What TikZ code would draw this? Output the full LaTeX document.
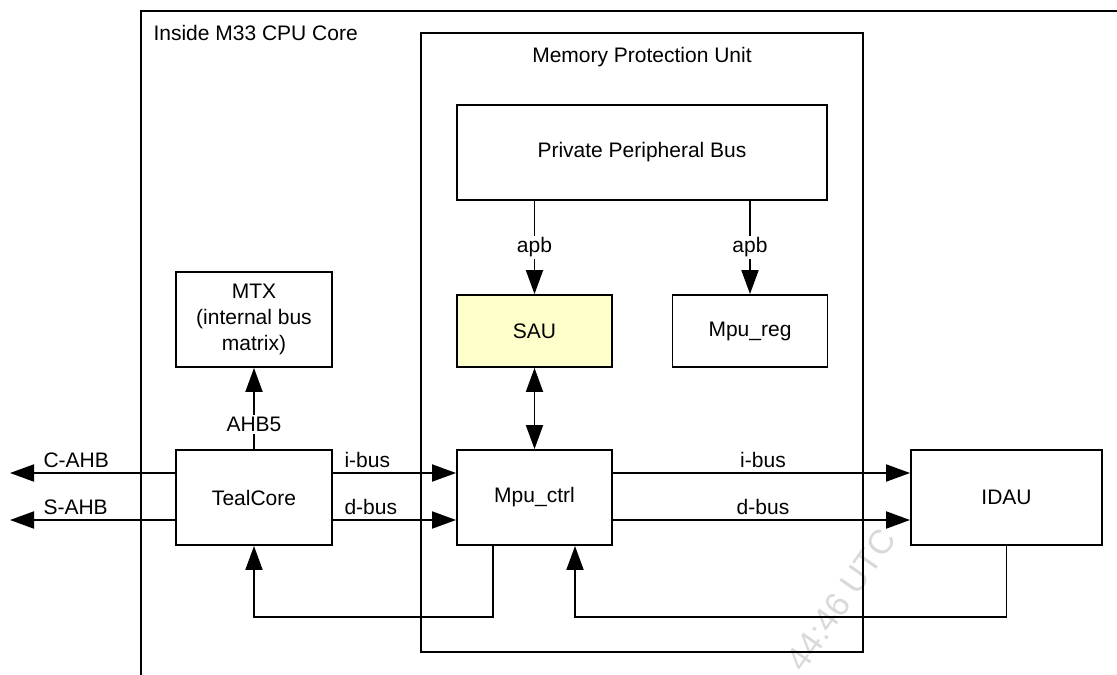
\documentclass[tikz,border=0pt]{standalone}
\usepackage{fontspec}
\setmainfont{Liberation Sans}
\usetikzlibrary{arrows.meta,calc}
\definecolor{sauyellow}{HTML}{FFFFCC}
\definecolor{wmgray}{HTML}{D9D9D9}
\begin{document}
\begin{tikzpicture}[x=1pt,y=-1pt,
  txt/.style={font=\fontsize{21}{26}\selectfont},
  box/.style={draw,line width=1.9pt,inner sep=0pt,txt,align=center},
  arr/.style={line width=1.9pt,-{Triangle[length=24pt,width=17pt]}},
  biarr/.style={line width=1.9pt,{Triangle[length=24pt,width=17pt]}-{Triangle[length=24pt,width=17pt]}},
  lbl/.style={txt,fill=white,inner sep=2pt},
  plain/.style={line width=1.9pt}
]
\useasboundingbox (0,0) rectangle (1117,675);

% watermark
\node[font=\fontsize{34}{38}\selectfont,text=wmgray,rotate=55,anchor=base east] (wm) at (900,536) {44:46 UTC};

% outer CPU core frame
\coordinate (otr) at (1117,11);
\coordinate (obl) at (141,675);
\draw[plain] (otr) -- (obl |- otr) -- (obl);
\node[txt,anchor=west] (cpulbl) at (150,33) {Inside M33 CPU Core};

% MPU container
\node[box,minimum width=442pt,minimum height=619pt] (mpu) at (642,342.5) {};
\node[txt] (mpulbl) at (642,57) {Memory Protection Unit};

% blocks
\node[box,minimum width=370pt,minimum height=95pt] (ppb) at (642,152.5) {Private Peripheral Bus};
\node[box,fill=sauyellow,minimum width=155pt,minimum height=72pt] (sau) at (534.5,331) {SAU};
\node[box,minimum width=155pt,minimum height=72pt] (mpureg) at (750,331) {Mpu\_reg};
\node[box,minimum width=156pt,minimum height=95pt] (mtx) at (254,319.5) {MTX\\(internal bus\\matrix)};
\node[box,minimum width=156pt,minimum height=95pt] (teal) at (254,497.5) {TealCore};
\node[box,minimum width=155pt,minimum height=95pt] (mpuctrl) at (534.5,497.5) {Mpu\_ctrl};
\node[box,minimum width=191pt,minimum height=95pt] (idau) at (1006.5,497.5) {IDAU};

% apb arrows
\draw[arr] (sau.north |- ppb.south) -- node[lbl] {apb} (sau.north);
\draw[arr] (mpureg.north |- ppb.south) -- node[lbl] {apb} (mpureg.north);

% SAU <-> Mpu_ctrl
\draw[biarr] (sau.south) -- (mpuctrl.north);

% AHB5
\draw[arr] (teal.north) -- node[lbl,pos=0.3] {AHB5} (mtx.south);

% external buses
\coordinate (cahb) at (10,473);
\coordinate (sahb) at (10,520);
\draw[arr] ([yshift=24.5pt]teal.west) -- (cahb);
\draw[arr] ([yshift=-22.5pt]teal.west) -- (sahb);
\node[txt,anchor=west] (cahblbl) at (40,460) {C-AHB};
\node[txt,anchor=west] (sahblbl) at (40,507) {S-AHB};

% TealCore -> Mpu_ctrl
\draw[arr] ([yshift=24.5pt]teal.east) -- ([yshift=24.5pt]mpuctrl.west);
\draw[arr] ([yshift=-22.5pt]teal.east) -- ([yshift=-22.5pt]mpuctrl.west);
\node[txt,anchor=west] (ibusl) at (341,460) {i-bus};
\node[txt,anchor=west] (dbusl) at (341,507) {d-bus};

% Mpu_ctrl -> IDAU
\draw[arr] ([yshift=24.5pt]mpuctrl.east) -- ([yshift=24.5pt]idau.west);
\draw[arr] ([yshift=-22.5pt]mpuctrl.east) -- ([yshift=-22.5pt]idau.west);
\node[txt] (ibusr) at (763,460) {i-bus};
\node[txt] (dbusr) at (763,507) {d-bus};

% feedback loops
\draw[arr] ([xshift=-41.5pt]mpuctrl.south) -- ++(0,71) -| (teal.south);
\draw[arr] (idau.south) -- ++(0,71) -| ([xshift=40.5pt]mpuctrl.south);
\end{tikzpicture}
\end{document}
